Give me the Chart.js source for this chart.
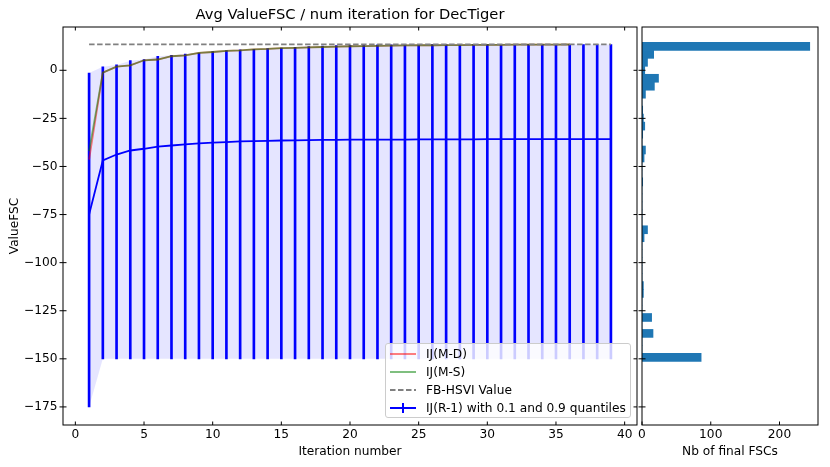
<!DOCTYPE html>
<html lang="en">
  <head>
    <meta charset="UTF-8" />
    <title>Avg ValueFSC / num iteration for DecTiger</title>
    <script src="https://cdn.jsdelivr.net/npm/chart.js"></script>
    <style>
      body { margin: 0; background: #fff; }
      #wrap { position: relative; width: 830px; height: 467px; overflow: hidden; }
      #mainChart { position: absolute; left: 0; top: 0; }
      #histChart { position: absolute; left: 628px; top: 0; }
      #legend {
        position: absolute; left: 385px; top: 343px; width: 246px; height: 75px;
        box-sizing: border-box; border: 1px solid #cccccc; border-radius: 3px;
        background: rgba(255, 255, 255, 0.8); padding-top: 1px;
        font-family: "DejaVu Sans", sans-serif; font-size: 12.2px; color: #000;
      }
      #legend .row { display: flex; align-items: center; height: 18px; }
      #legend svg { margin-left: 3px; width: 28px; height: 12px; }
      #legend span { margin-left: 9px; white-space: nowrap; }
    </style>
  </head>
  <body>
    <div id="wrap">
      <canvas id="mainChart" width="640" height="467"></canvas>
      <canvas id="histChart" width="202" height="467"></canvas>
      <div id="legend">
        <div class="row">
          <svg viewBox="0 0 28 12"><line x1="1" y1="6" x2="27" y2="6" stroke="rgba(255,0,0,0.5)" stroke-width="2" /></svg>
          <span>IJ(M-D)</span>
        </div>
        <div class="row">
          <svg viewBox="0 0 28 12"><line x1="1" y1="6" x2="27" y2="6" stroke="rgba(0,128,0,0.5)" stroke-width="2" /></svg>
          <span>IJ(M-S)</span>
        </div>
        <div class="row">
          <svg viewBox="0 0 28 12"><line x1="1" y1="6" x2="27" y2="6" stroke="gray" stroke-width="2" stroke-dasharray="5.5 2.5" /></svg>
          <span>FB-HSVI Value</span>
        </div>
        <div class="row">
          <svg viewBox="0 0 28 12">
            <line x1="1" y1="6" x2="27" y2="6" stroke="blue" stroke-width="2" />
            <line x1="14" y1="1" x2="14" y2="11" stroke="blue" stroke-width="2" />
          </svg>
          <span>IJ(R-1) with 0.1 and 0.9 quantiles</span>
        </div>
      </div>
    </div>

    <script>
      // iterations of the IJ(R-1) runs
      const iterations = [
        1, 2, 3, 4, 5, 6, 7, 8, 9, 10, 11, 12, 13, 14, 15, 16, 17, 18, 19, 20,
        21, 22, 23, 24, 25, 26, 27, 28, 29, 30, 31, 32, 33, 34, 35, 36, 37, 38, 39,
      ];
      const meanR1 = [
        -75, -46.8, -43.8, -41.7, -40.8, -39.7, -39.1, -38.5, -38.0, -37.6,
        -37.3, -37.0, -36.8, -36.7, -36.5, -36.4, -36.3, -36.2, -36.2, -36.1,
        -36.1, -36.0, -36.0, -36.0, -35.9, -35.9, -35.9, -35.9, -35.9, -35.8,
        -35.8, -35.8, -35.8, -35.8, -35.8, -35.8, -35.8, -35.8, -35.8,
      ];
      const q10R1 = [
        -175, -150, -150, -150, -150, -150, -150, -150, -150, -150,
        -150, -150, -150, -150, -150, -150, -150, -150, -150, -150,
        -150, -150, -150, -150, -150, -150, -150, -150, -150, -150,
        -150, -150, -150, -150, -150, -150, -150, -150, -150,
      ];
      const q90R1 = [
        -1.4, 1.8, 2.8, 5.0, 5.6, 7.3, 7.8, 8.4, 9.0, 9.7,
        10.2, 10.6, 10.9, 11.3, 11.6, 11.9, 12.3, 12.6, 12.8, 13.0,
        13.1, 13.2, 13.2, 13.3, 13.3, 13.4, 13.4, 13.4, 13.4, 13.4,
        13.4, 13.4, 13.4, 13.4, 13.4, 13.4, 13.4, 13.4, 13.4,
      ];

      // IJ(M-D) and IJ(M-S) stop at iteration 36
      const iterationsM = [
        1, 2, 3, 4, 5, 6, 7, 8, 9, 10, 11, 12, 13, 14, 15, 16, 17, 18,
        19, 20, 21, 22, 23, 24, 25, 26, 27, 28, 29, 30, 31, 32, 33, 34, 35, 36,
      ];
      const valueMD = [
        -46.5, -1.2, 1.9, 2.6, 5.2, 5.6, 7.3, 7.8, 9.0, 9.5, 10.1, 10.4,
        10.9, 11.1, 11.5, 11.7, 11.9, 12.1, 12.3, 12.5, 12.6, 12.7, 12.8, 12.9,
        13.0, 13.0, 13.1, 13.1, 13.2, 13.2, 13.2, 13.3, 13.3, 13.3, 13.3, 13.4,
      ];
      const valueMS = [
        -42.0, -1.2, 1.9, 2.6, 5.2, 5.6, 7.3, 7.8, 9.0, 9.5, 10.1, 10.4,
        10.9, 11.1, 11.5, 11.7, 11.9, 12.1, 12.3, 12.5, 12.6, 12.7, 12.8, 12.9,
        13.0, 13.0, 13.1, 13.1, 13.2, 13.2, 13.2, 13.3, 13.3, 13.3, 13.3, 13.4,
      ];
      const hsviIterations = [1, 39];
      const hsviValue = [13.45, 13.45];

      // histogram of final FSC values (bin centres, counts)
      const binCenters = [
        12.43, 8.28, 4.14, 0.0, -4.15, -8.29, -12.44, -16.58, -20.73, -24.87,
        -29.02, -33.16, -37.31, -41.45, -45.6, -49.74, -53.89, -58.03, -62.18, -66.32,
        -70.47, -74.61, -78.76, -82.9, -87.05, -91.19, -95.34, -99.48, -103.63, -107.77,
        -111.92, -116.06, -120.21, -124.35, -128.5, -132.64, -136.79, -140.93, -145.08, -149.22,
      ];
      const binCounts = [
        244, 17, 8, 4, 24, 18, 5, 0, 1, 2,
        4, 1, 0, 5, 3, 0, 0, 1, 0, 0,
        0, 0, 0, 8, 3, 0, 0, 0, 0, 0,
        2, 2, 0, 0, 14, 0, 16, 0, 0, 86,
      ];

      // tick values
      const iterTicks = [0, 5, 10, 15, 20, 25, 30, 35, 40];
      const valueTicks = [0, -25, -50, -75, -100, -125, -150, -175];
      const countTicks = [0, 100, 200];

      const yMin = -184.4;
      const yMax = 22.5;

      Chart.defaults.font.family = "'DejaVu Sans', sans-serif";
      Chart.defaults.font.size = 12.2;
      Chart.defaults.color = "#000";

      const minus = (v) => String(v).replace("-", "\u2212");
      const setTicks = (list) => (s) => {
        s.ticks = list.map((v) => ({ value: v }));
      };
      const noGrid = { display: false, drawTicks: false, offset: false };

      // box around the plot + matplotlib style inward ticks
      const frame = {
        id: "frame",
        afterDraw(chart, args, opts) {
          const { ctx, chartArea: a } = chart;
          const xs = chart.scales.x;
          const ys = chart.scales.y;
          const L = 3.5;
          ctx.save();
          ctx.strokeStyle = "#000";
          ctx.lineWidth = 1;
          ctx.strokeRect(a.left, a.top, a.right - a.left, a.bottom - a.top);
          ctx.beginPath();
          xs.ticks.forEach((t) => {
            const p = xs.getPixelForValue(t.value);
            ctx.moveTo(p, a.bottom);
            ctx.lineTo(p, a.bottom - L);
            if (opts.top) {
              ctx.moveTo(p, a.top);
              ctx.lineTo(p, a.top + L);
            }
          });
          ys.ticks.forEach((t) => {
            const p = ys.getPixelForValue(t.value);
            ctx.moveTo(a.left - L, p);
            ctx.lineTo(a.left + L, p);
            if (opts.right) {
              ctx.moveTo(a.right, p);
              ctx.lineTo(a.right - L, p);
            }
          });
          ctx.stroke();
          ctx.restore();
        },
      };

      const pts = (xs, ys) => xs.map((x, i) => ({ x: x, y: ys[i] }));

      new Chart(document.getElementById("mainChart"), {
        type: "line",
        data: {
          datasets: [
            {
              label: "IJ(M-D)",
              data: pts(iterationsM, valueMD),
              borderColor: "rgba(255, 0, 0, 0.5)",
              borderWidth: 1.8,
              pointRadius: 0,
              order: 4,
            },
            {
              label: "IJ(M-S)",
              data: pts(iterationsM, valueMS),
              borderColor: "rgba(0, 128, 0, 0.5)",
              borderWidth: 1.8,
              pointRadius: 0,
              order: 3,
            },
            {
              label: "FB-HSVI Value",
              data: pts(hsviIterations, hsviValue),
              borderColor: "gray",
              borderDash: [5.5, 2.5],
              borderWidth: 1.8,
              pointRadius: 0,
              order: 2,
            },
            {
              label: "IJ(R-1) with 0.1 and 0.9 quantiles",
              data: pts(iterations, meanR1),
              borderColor: "blue",
              borderWidth: 1.8,
              pointRadius: 0,
              order: 1,
            },
            {
              type: "bar",
              label: "quantile bars",
              data: iterations.map((x, i) => ({ x: x, y: [q10R1[i], q90R1[i]] })),
              backgroundColor: "blue",
              borderWidth: 0,
              barThickness: 2,
              order: 5,
            },
            {
              label: "q90",
              data: pts(iterations, q90R1),
              borderColor: "transparent",
              borderWidth: 0,
              backgroundColor: "rgba(0, 0, 255, 0.1)",
              pointRadius: 0,
              fill: "+1",
              order: 6,
            },
            {
              label: "q10",
              data: pts(iterations, q10R1),
              borderColor: "transparent",
              borderWidth: 0,
              pointRadius: 0,
              fill: false,
              order: 7,
            },
          ],
        },
        options: {
          responsive: false,
          animation: false,
          layout: { padding: { top: 0, right: 3, bottom: 0, left: 0 } },
          plugins: {
            legend: { display: false },
            tooltip: { enabled: false },
            frame: { top: true, right: true },
          },
          scales: {
            x: {
              type: "linear",
              position: "bottom",
              min: -0.9,
              max: 40.9,
              bounds: "data",
              offset: false,
              grid: noGrid,
              border: { display: false },
              ticks: { padding: 3, maxRotation: 0 },
              afterBuildTicks: setTicks(iterTicks),
              title: {
                display: true,
                text: "Iteration number",
                padding: { top: 0, bottom: 8 },
              },
              afterFit: (s) => { s.height = 42; },
            },
            xTop: {
              type: "linear",
              position: "top",
              min: -0.9,
              max: 40.9,
              bounds: "data",
              grid: noGrid,
              border: { display: false },
              ticks: { display: false },
              title: {
                display: true,
                text: "Avg ValueFSC / num iteration for DecTiger",
                font: { size: 14.7 },
                padding: { top: 6.2, bottom: 0 },
              },
              afterFit: (s) => { s.height = 27; },
            },
            y: {
              type: "linear",
              min: yMin,
              max: yMax,
              bounds: "data",
              grid: noGrid,
              border: { display: false },
              ticks: { padding: 5.5, callback: minus },
              afterBuildTicks: setTicks(valueTicks),
              title: {
                display: true,
                text: "ValueFSC",
                padding: { top: 7.7, bottom: 0 },
              },
              afterFit: (s) => { s.width = 63; },
            },
          },
        },
        plugins: [frame],
      });

      new Chart(document.getElementById("histChart"), {
        type: "bar",
        data: {
          datasets: [
            {
              label: "Nb of final FSCs",
              data: binCenters.map((c, i) => ({ x: binCounts[i], y: c })),
              backgroundColor: "#1f77b4",
              borderWidth: 0,
              barPercentage: 1,
              categoryPercentage: 1,
            },
          ],
        },
        options: {
          indexAxis: "y",
          responsive: false,
          animation: false,
          layout: { padding: { top: 27, right: 12, bottom: 0, left: 14 } },
          plugins: {
            legend: { display: false },
            tooltip: { enabled: false },
            frame: { top: false, right: false },
          },
          scales: {
            x: {
              type: "linear",
              min: 0,
              max: 256,
              bounds: "data",
              offset: false,
              grid: noGrid,
              border: { display: false },
              ticks: { padding: 3, maxRotation: 0 },
              afterBuildTicks: setTicks(countTicks),
              title: {
                display: true,
                text: "Nb of final FSCs",
                padding: { top: 0, bottom: 8 },
              },
              afterFit: (s) => { s.height = 42; },
            },
            y: {
              type: "linear",
              min: yMin,
              max: yMax,
              bounds: "data",
              offset: false,
              grid: noGrid,
              border: { display: false },
              ticks: { display: false },
              afterBuildTicks: setTicks(valueTicks),
              afterFit: (s) => { s.width = 0; },
            },
          },
        },
        plugins: [frame],
      });
    </script>
  </body>
</html>
